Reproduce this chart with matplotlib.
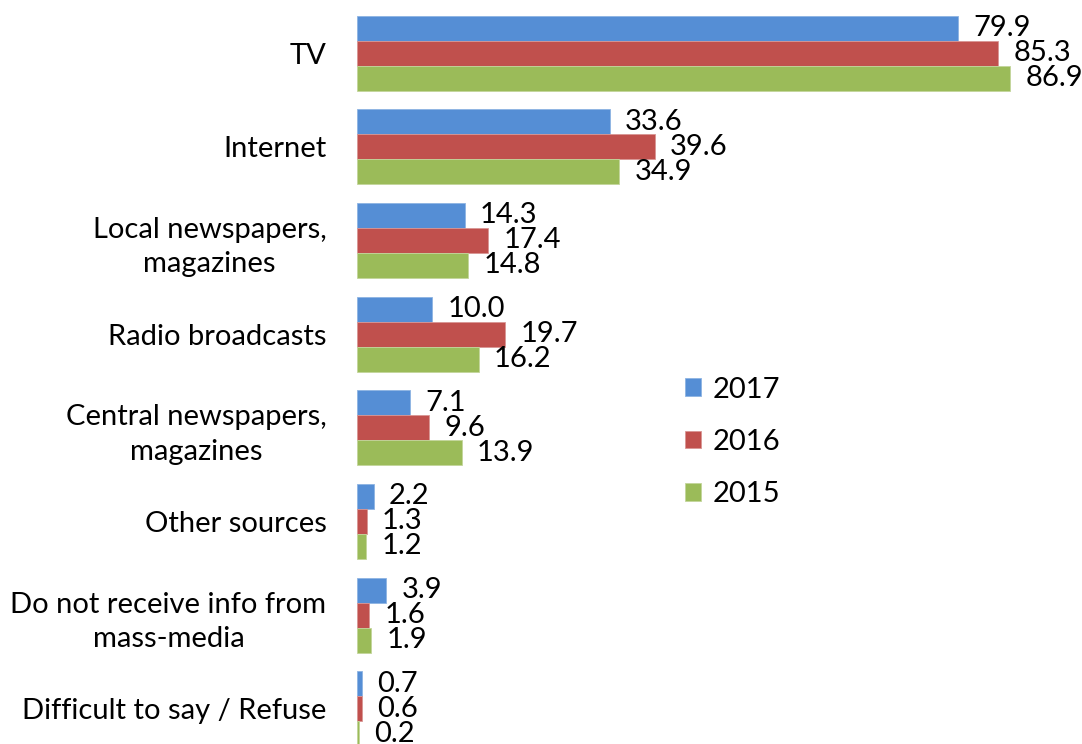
import numpy as np
import matplotlib
matplotlib.use("Agg")
import matplotlib.pyplot as plt

categories = ["TV", "Internet", "Local newspapers,\nmagazines", "Radio broadcasts",
              "Central newspapers,\nmagazines", "Other sources",
              "Do not receive info from\nmass-media", "Difficult to say / Refuse"]
years = ["2017", "2016", "2015"]
v2017 = [79.9, 33.6, 14.3, 10.0, 7.1, 2.2, 3.9, 0.7]
v2016 = [85.3, 39.6, 17.4, 19.7, 9.6, 1.3, 1.6, 0.6]
v2015 = [86.9, 34.9, 14.8, 16.2, 13.9, 1.2, 1.9, 0.2]
colors = ["#558ED5", "#C0504D", "#9BBB59"]
edges = ["#8DB3E2", "#D99694", "#C3D69B"]

plt.rcParams['font.family'] = ['Lato', 'DejaVu Sans']
fs = 21

fig = plt.figure(figsize=(10.82, 7.44), dpi=100)
ax = fig.add_axes([357 / 1082, 0, 1 - 357 / 1082, 1])

y = np.arange(len(categories))
h = 0.267
for k, (vals, c, ec, lab) in enumerate(zip([v2017, v2016, v2015], colors, edges, years)):
    pos = y + (k - 1) * h
    bars = ax.barh(pos, vals, height=h, color=c, edgecolor=ec, linewidth=0.6, label=lab)
    for b, v in zip(bars, vals):
        ax.annotate(f"{v:.1f}", (b.get_width(), b.get_y() + b.get_height() / 2),
                    xytext=(11, 0), textcoords="offset points",
                    va="center", ha="left", fontsize=fs)

ax.set_xlim(0, 725 / 7.52)
ax.set_ylim(7.375, -0.566)
ax.set_yticks(y)
ax.set_yticklabels(categories, fontsize=fs, multialignment="center", linespacing=1.4)
ax.tick_params(axis="y", length=0, pad=22)
ax.set_xticks([])
for s in ax.spines.values():
    s.set_visible(False)

ax.legend(loc="upper left", bbox_to_anchor=(670 / 1082, 1 - 362 / 744),
          bbox_transform=fig.transFigure, frameon=False, fontsize=fs,
          handlelength=0.55, handleheight=0.55, handletextpad=0.4,
          labelspacing=0.9, borderpad=0)

fig.savefig("out.png", dpi=100)
